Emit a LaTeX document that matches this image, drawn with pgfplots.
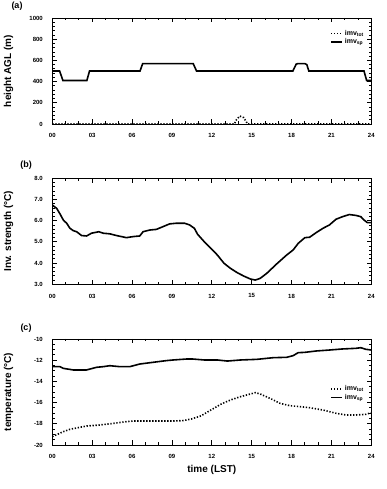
\documentclass[border=0pt]{standalone}
\usepackage{pgfplots}
\pgfplotsset{compat=1.18}
\usepackage{fontspec}
\setmainfont{Liberation Sans}
\begin{document}
\begin{tikzpicture}[x=1pt,y=1pt]
\useasboundingbox (0pt,0pt) rectangle (387pt,489pt);
\pgfplotsset{
  every axis/.append style={
    scale only axis, width=319pt, height=106pt,
    xmin=0, xmax=24, xtick={0,3,...,24},
    xticklabels={00,03,06,09,12,15,18,21,24},
    minor x tick num=2,
    tick pos=both, tick align=inside,
    major tick length=4.5pt, minor tick length=2.5pt,
    every tick/.style={black, line width=0.8pt},
    axis line style={line width=0.8pt},
    tick label style={font=\fontsize{6}{7}\selectfont\bfseries},
    xticklabel style={yshift=-6pt},
    yticklabel style={xshift=-6pt},
    /pgf/number format/assume math mode=true,
    /pgf/number format/set thousands separator={},
    label style={font=\fontsize{10}{12}\selectfont\bfseries},
    ylabel style={at={(axis description cs:-0.137,0.5)}, anchor=center, rotate=0},
    legend style={draw=none, fill=none, font=\fontsize{7}{8}\selectfont\bfseries,
      row sep=-2pt, inner sep=0pt},
    legend cell align=left,
  },
  solidl/.style={black, line width=1.6pt, no markers},
  dotl/.style={black, line width=1.6pt, no markers, dash pattern=on 1.3pt off 1.7pt},
}
% (a)
\begin{axis}[at={(52.3pt,365pt)}, anchor=south west,
  ymin=0, ymax=1000, ytick={0,200,...,1000}, minor y tick num=4,
  ylabel={height AGL (m)},
  legend style={at={(axis cs:23.6,905)}, anchor=north east},
  legend image code/.code={\draw[#1] (0pt,0pt) -- (11pt,0pt);}]
\addplot[dotl] coordinates {(0,0) (13.7,0) (13.85,40) (14.1,75) (14.4,60) (14.6,20) (14.7,0) (24,0)};
\addlegendentry{imv\textsubscript{tot}}
\addplot[solidl] coordinates {(0,500) (0.55,500) (0.8,410) (2.6,410) (2.8,500) (6.6,500) (6.8,570) (10.6,570) (10.85,500) (18.1,500) (18.35,565) (18.5,570) (19.0,570) (19.15,560) (19.3,500) (23.45,500) (23.65,410) (24,410)};
\addlegendentry{imv\textsubscript{sp}}
\end{axis}
% (b)
\begin{axis}[at={(52.3pt,204.7pt)}, anchor=south west,
  ymin=3, ymax=8, ytick={3,4,...,8}, minor y tick num=4,
  yticklabel style={/pgf/number format/.cd, fixed, fixed zerofill, precision=1},
  ylabel={Inv. strength (°C)}]
\addplot[solidl] coordinates {
(0,6.74) (0.33,6.58) (0.58,6.32) (0.83,6.03) (1.08,5.88) (1.33,5.64) (1.58,5.53) (1.83,5.48)
(2.2,5.30) (2.58,5.28) (2.95,5.41) (3.5,5.48) (3.83,5.41) (4.33,5.38) (4.83,5.30) (5.58,5.20)
(6.08,5.25) (6.58,5.28) (6.83,5.48) (7.33,5.56) (7.83,5.59) (8.33,5.72) (8.83,5.85) (9.33,5.88)
(9.95,5.88) (10.33,5.80) (10.69,5.64) (10.93,5.36) (11.43,5.01) (11.93,4.70) (12.42,4.38)
(12.92,3.99) (13.41,3.75) (13.91,3.55) (14.40,3.39) (14.90,3.25) (15.27,3.20) (15.64,3.28)
(16.14,3.52) (16.88,3.96) (17.63,4.38) (18.12,4.62) (18.50,4.93) (19.0,5.20) (19.36,5.22)
(19.86,5.44) (20.36,5.64) (20.85,5.80) (21.35,6.07) (21.84,6.19) (22.34,6.29) (22.84,6.25)
(23.21,6.19) (23.46,6.03) (23.7,5.91) (24,5.91)};
\end{axis}
% (c)
\begin{axis}[at={(52.3pt,44pt)}, anchor=south west,
  ymin=-20, ymax=-10, ytick={-20,-18,...,-10}, minor y tick num=3,
  ylabel={temperature (°C)},
  xlabel={time (LST)},
  xlabel style={at={(axis description cs:0.5,-0.235)}, anchor=center},
  legend style={at={(axis cs:23.6,-14.2)}, anchor=north east},
  legend image code/.code={\draw[#1] (0pt,0pt) -- (11pt,0pt);}]
\addplot[dotl] coordinates {
(0,-19.21) (0.33,-19.03) (0.83,-18.74) (1.33,-18.52) (2.08,-18.33) (2.58,-18.21) (3.58,-18.11)
(4.58,-17.96) (5.58,-17.80) (6.08,-17.74) (7.08,-17.74) (8.08,-17.74) (9.08,-17.74) (9.83,-17.70)
(10.45,-17.55) (11.18,-17.26) (11.93,-16.70) (12.67,-16.16) (13.41,-15.75) (14.16,-15.44)
(14.9,-15.19) (15.27,-15.06) (15.64,-15.19) (16.38,-15.60) (17.13,-16.07) (17.87,-16.29)
(18.62,-16.38) (19.36,-16.48) (20.36,-16.70) (21.35,-17.01) (22.1,-17.17) (22.84,-17.17)
(23.58,-17.11) (24,-16.95)};
\addlegendentry{imv\textsubscript{tot}}
\addplot[solidl] coordinates {
(0,-12.61) (0.58,-12.61) (0.83,-12.77) (1.58,-12.92) (2.58,-12.92) (3.33,-12.67) (3.83,-12.61)
(4.33,-12.52) (5.08,-12.61) (5.83,-12.61) (6.58,-12.36) (7.58,-12.20) (8.58,-12.04) (9.08,-11.98)
(10.08,-11.89) (10.58,-11.89) (11.43,-11.98) (12.42,-11.98) (13.17,-12.08) (14.16,-11.98)
(15.4,-11.92) (16.64,-11.76) (17.63,-11.73) (18.12,-11.57) (18.5,-11.29) (19.0,-11.26)
(19.86,-11.13) (20.85,-11.04) (21.84,-10.94) (22.84,-10.88) (23.21,-10.82) (23.58,-10.97) (24,-11.04)};
\addlegendentry{imv\textsubscript{sp}}
\end{axis}
\node[font=\fontsize{9}{10}\selectfont\bfseries] at (17pt,483pt) {(a)};
\node[font=\fontsize{9}{10}\selectfont\bfseries] at (26pt,324pt) {(b)};
\node[font=\fontsize{9}{10}\selectfont\bfseries] at (26pt,161pt) {(c)};
\end{tikzpicture}
\end{document}
